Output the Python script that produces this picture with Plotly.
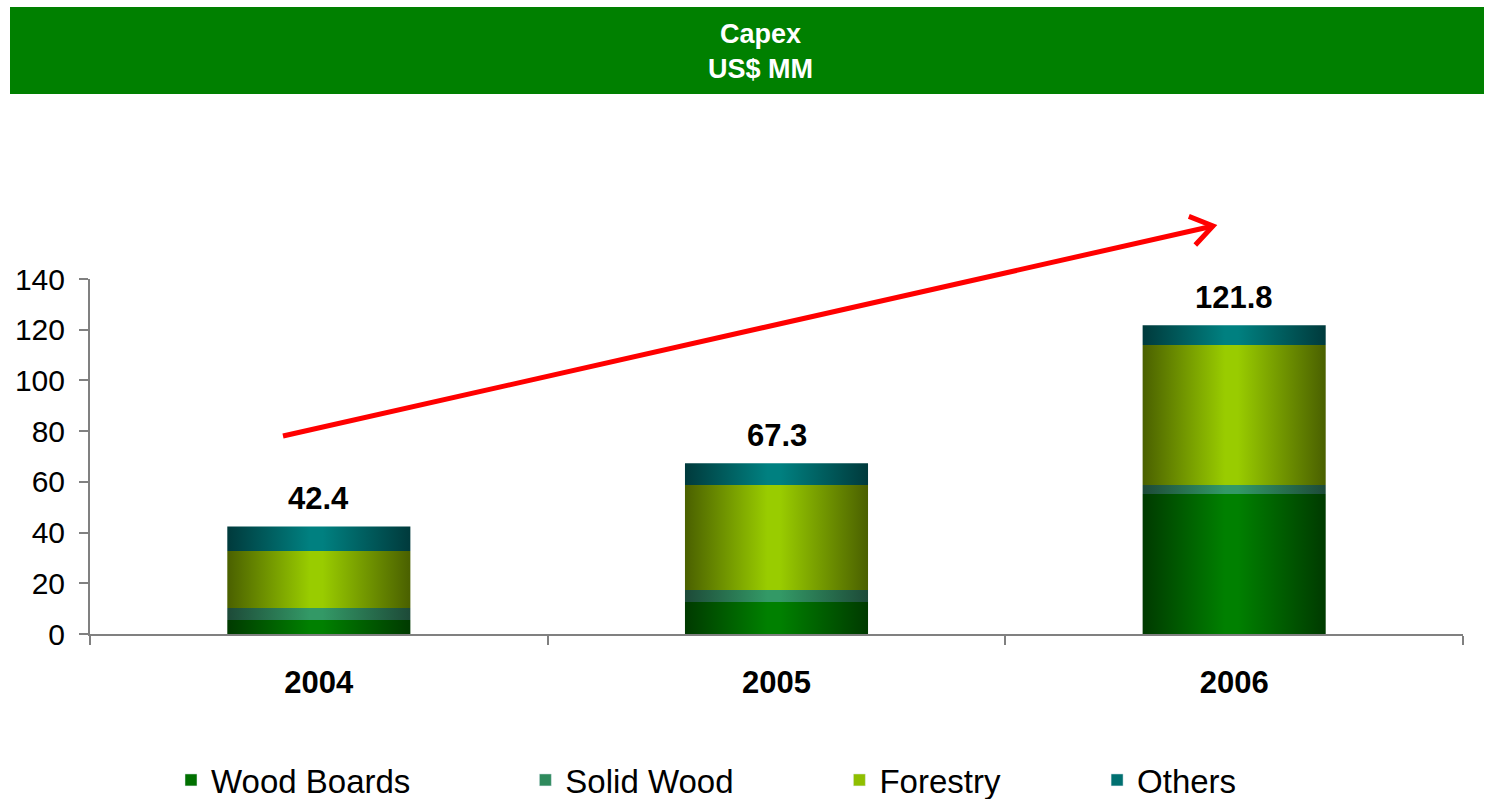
import math
import plotly.graph_objects as go

# ---------------- data ----------------
years = ["2004", "2005", "2006"]
wood_boards = [5.5, 12.6, 55.2]
solid_wood = [4.8, 4.8, 3.6]
forestry = [22.4, 41.4, 55.2]
others = [9.7, 8.5, 7.8]
total_labels = ["42.4", "67.3", "121.8"]
series_names = ["Wood Boards", "Solid Wood", "Forestry", "Others"]

# ---------------- styling ----------------
FONT = "Liberation Sans, Arial, sans-serif"
dark_cols = ["#003a00", "#1d4a38", "#4a6000", "#003a3c"]
light_cols = ["#008000", "#339966", "#99cc00", "#008080"]
legend_cols = ["#007000", "#2e8a5c", "#8fbf00", "#007070"]
BAR_W = 0.4
pads = [12, 11, 10, 0]

W, H = 1494, 799
# plot area pixels (for paper-coordinate decorations)
L, R, T, B = 90, 1463, 279, 634


def pxx(x):
    return (x - L) / (R - L)


def pxy(y):
    return (B - y) / (B - T)


fig = go.Figure()

values = [wood_boards, solid_wood, forestry, others]
for i in range(len(years)):
    base = 0.0
    for s, vals in enumerate(values):
        v = vals[i]
        x0, x1 = i - BAR_W / 2, i + BAR_W / 2
        fig.add_trace(go.Scatter(
            x=[x0, x1, x1, x0, x0],
            y=[base, base, base + v, base + v, base],
            mode="lines", fill="toself",
            line=dict(width=0),
            fillgradient=dict(
                type="horizontal",
                colorscale=[[0, dark_cols[s]], [0.45, light_cols[s]],
                            [0.52, light_cols[s]], [1, dark_cols[s]]],
            ),
            showlegend=False, hoverinfo="skip",
        ))
        base += v

# legend entries
for s, name in enumerate(series_names):
    fig.add_trace(go.Bar(
        x=[None], y=[None], name=name + "\u00a0" * pads[s],
        marker=dict(color=legend_cols[s]), showlegend=True,
    ))

# value labels
for i, lab in enumerate(total_labels):
    tot = wood_boards[i] + solid_wood[i] + forestry[i] + others[i]
    fig.add_annotation(
        x=i, y=tot, text=lab, showarrow=False, yanchor="bottom", yshift=8,
        font=dict(family=FONT, size=31, color="black", weight="bold"),
    )

# header banner
fig.add_shape(type="rect", xref="paper", yref="paper",
              x0=pxx(10), x1=pxx(1484), y0=pxy(94), y1=pxy(7),
              fillcolor="#008000", line=dict(width=0), layer="below")
fig.add_annotation(
    xref="paper", yref="paper", x=pxx(760), y=pxy(51),
    text="Capex<br>US$ MM", showarrow=False, xanchor="center", yanchor="middle",
    font=dict(family=FONT, size=27, color="white", weight="bold"),
)

# trend arrow
sx, sy, ex, ey = 283, 436, 1213, 226
ang = math.atan2(ey - sy, ex - sx)
arm = 26
a1 = (ex - arm * math.cos(ang - 0.6), ey - arm * math.sin(ang - 0.6))
a2 = (ex - arm * math.cos(ang + 0.6), ey - arm * math.sin(ang + 0.6))
fig.add_shape(type="line", xref="paper", yref="paper",
              x0=pxx(sx), y0=pxy(sy), x1=pxx(ex - 2), y1=pxy(ey + 0.5),
              line=dict(color="#ff0000", width=5))
fig.add_shape(type="path", xref="paper", yref="paper",
              path=f"M {pxx(a1[0])},{pxy(a1[1])} L {pxx(ex)},{pxy(ey)} L {pxx(a2[0])},{pxy(a2[1])}",
              line=dict(color="#ff0000", width=5))

fig.update_layout(
    width=W, height=H,
    margin=dict(l=L, r=W - R, t=T, b=H - B, pad=0, autoexpand=False),
    paper_bgcolor="white", plot_bgcolor="white",
    font=dict(family=FONT, color="black"),
    showlegend=True,
    legend=dict(orientation="h", xref="container", yref="container",
                x=171 / W, xanchor="left",
                y=1 - 780 / H, yanchor="middle",
                font=dict(family=FONT, size=33, color="black"),
                traceorder="normal"),
    xaxis=dict(
        range=[-0.5, 2.5], tickmode="array", tickvals=[0, 1, 2], ticktext=years,
        ticks="", showgrid=False, zeroline=False, automargin=False,
        showline=True, linecolor="#808080", linewidth=2,
        tickfont=dict(family=FONT, size=31, color="black", weight="bold"),
        ticklabelstandoff=20,
        minor=dict(tickmode="array", tickvals=[-0.5, 0.5, 1.5, 2.5], ticks="outside",
                   ticklen=9, tickwidth=2, tickcolor="#808080", showgrid=False),
        fixedrange=True,
    ),
    yaxis=dict(
        range=[0, 140], tickmode="linear", tick0=0, dtick=20,
        ticks="outside", ticklen=9, tickwidth=2, tickcolor="#808080",
        showline=True, linecolor="#808080", linewidth=2,
        showgrid=False, zeroline=False, automargin=False,
        tickfont=dict(family=FONT, size=30, color="black"),
        ticklabelstandoff=8,
        fixedrange=True,
    ),
)

fig.write_html("out.html")
